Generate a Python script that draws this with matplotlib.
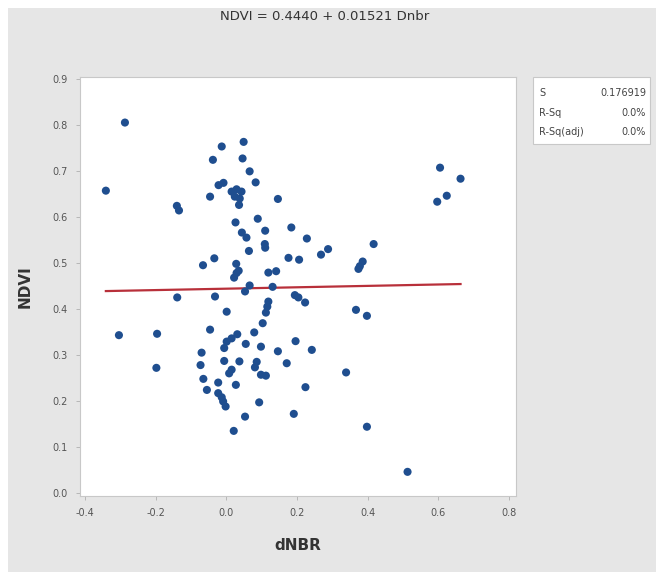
import numpy as np
import matplotlib
matplotlib.use('Agg')
from matplotlib import pyplot as plt
from matplotlib.patches import Rectangle

# dNBR / NDVI values
dnbr = [-0.287, -0.341, -0.140, -0.134, -0.013, 0.049, -0.038, 0.046, 0.066, 0.083,
        -0.022, -0.008, 0.015, 0.029, 0.043, 0.024, 0.038, 0.036, -0.046, 0.146,
        0.026, 0.089, 0.044, 0.057, 0.110, 0.109, 0.110, 0.064, -0.034, -0.066,
        0.028, 0.035, 0.029, 0.022, 0.119, 0.141, 0.066, 0.053, 0.131, -0.139,
        -0.032, 0.184, 0.228, 0.176, 0.206, 0.268, 0.288, 0.417, 0.386, 0.378,
        0.374, 0.194, 0.204, 0.001, -0.304, -0.196, -0.198, -0.046, -0.070, -0.073,
        -0.065, -0.055, -0.023, -0.023, -0.013, -0.009, -0.002, 0.021, 0.053, 0.093,
        0.027, -0.006, 0.015, 0.008, 0.037, -0.006, 0.001, 0.015, 0.031, 0.055,
        0.079, 0.103, 0.112, 0.116, 0.119, 0.098, 0.146, 0.086, 0.081, 0.098,
        0.112, 0.223, 0.196, 0.242, 0.171, 0.224, 0.191, 0.367, 0.398, 0.339,
        0.398, 0.605, 0.663, 0.624, 0.597, 0.513]
ndvi = [0.805, 0.657, 0.624, 0.614, 0.753, 0.763, 0.724, 0.727, 0.699, 0.675,
        0.669, 0.674, 0.655, 0.660, 0.655, 0.644, 0.640, 0.626, 0.644, 0.639,
        0.588, 0.596, 0.566, 0.555, 0.570, 0.541, 0.533, 0.526, 0.510, 0.495,
        0.498, 0.483, 0.478, 0.468, 0.479, 0.482, 0.451, 0.438, 0.448, 0.425,
        0.427, 0.577, 0.553, 0.511, 0.507, 0.518, 0.530, 0.541, 0.503, 0.493,
        0.487, 0.430, 0.425, 0.394, 0.343, 0.346, 0.272, 0.355, 0.305, 0.278,
        0.248, 0.224, 0.240, 0.217, 0.208, 0.199, 0.188, 0.135, 0.166, 0.197,
        0.235, 0.287, 0.268, 0.260, 0.286, 0.315, 0.329, 0.336, 0.345, 0.324,
        0.349, 0.369, 0.392, 0.405, 0.416, 0.318, 0.308, 0.285, 0.273, 0.257,
        0.255, 0.414, 0.330, 0.311, 0.282, 0.230, 0.172, 0.398, 0.385, 0.262,
        0.144, 0.707, 0.683, 0.646, 0.633, 0.046]

intercept = 0.4440
slope = 0.01521
stat_names = ['S', 'R-Sq', 'R-Sq(adj)']
stat_values = ['0.176919', '0.0%', '0.0%']

xticks = [-0.4, -0.2, 0.0, 0.2, 0.4, 0.6, 0.8]
yticks = [0.0, 0.1, 0.2, 0.3, 0.4, 0.5, 0.6, 0.7, 0.8, 0.9]

bg = '#e6e6e6'
fig = plt.figure(figsize=(6.56, 5.72), dpi=100, facecolor=bg)
# white strip at top and left like the screenshot
fig.patches.append(Rectangle((0, 1 - 8 / 572), 1, 8 / 572, transform=fig.transFigure,
                             facecolor='white', edgecolor='none', zorder=0))
fig.patches.append(Rectangle((0, 0), 8 / 656, 1, transform=fig.transFigure,
                             facecolor='white', edgecolor='none', zorder=0))

ax = fig.add_axes([80 / 656, 1 - 496 / 572, 436 / 656, 419 / 572])
ax.set_facecolor('white')

ax.scatter(dnbr, ndvi, s=34, color='#1f4e8f', edgecolors='none', zorder=3)

xs = np.array([min(dnbr), max(dnbr)])
ax.plot(xs, intercept + slope * xs, color='#b8303a', lw=1.6, zorder=2)

ax.set_xlim(-0.4142, 0.82)
ax.set_ylim(-0.0065, 0.904)
ax.set_xticks(xticks)
ax.set_yticks(yticks)
ax.set_xticklabels(['%.1f' % t for t in xticks])
ax.set_yticklabels(['%.1f' % t for t in yticks])
ax.tick_params(direction='out', length=3, width=0.6, color='#b0b0b0',
               labelsize=7, labelcolor='#555555', pad=6)
for sp in ax.spines.values():
    sp.set_color('#c8c8c8')
    sp.set_linewidth(0.8)

ax.set_xlabel('dNBR', fontsize=11, fontweight='bold', color='#333333', labelpad=14)
ax.set_ylabel('NDVI', fontsize=11, fontweight='bold', color='#333333', labelpad=14)

fig.text(325 / 656, 1 - 16 / 572, 'NDVI = %.4f + %.5f Dnbr' % (intercept, slope),
         ha='center', va='center', fontsize=9.5, color='#333333')

# stats box
bx0, bx1, by0, by1 = 533, 650, 77, 144
fig.patches.append(Rectangle((bx0 / 656, 1 - by1 / 572), (bx1 - bx0) / 656, (by1 - by0) / 572,
                             transform=fig.transFigure, facecolor='white',
                             edgecolor='#c8c8c8', lw=0.8, zorder=1))
for i, (n, v) in enumerate(zip(stat_names, stat_values)):
    yy = 1 - (93 + i * 19.5) / 572
    fig.text(539 / 656, yy, n, ha='left', va='center', fontsize=7, color='#444444')
    fig.text(646 / 656, yy, v, ha='right', va='center', fontsize=7, color='#444444')

fig.savefig('out.png', dpi=100, facecolor=bg)
